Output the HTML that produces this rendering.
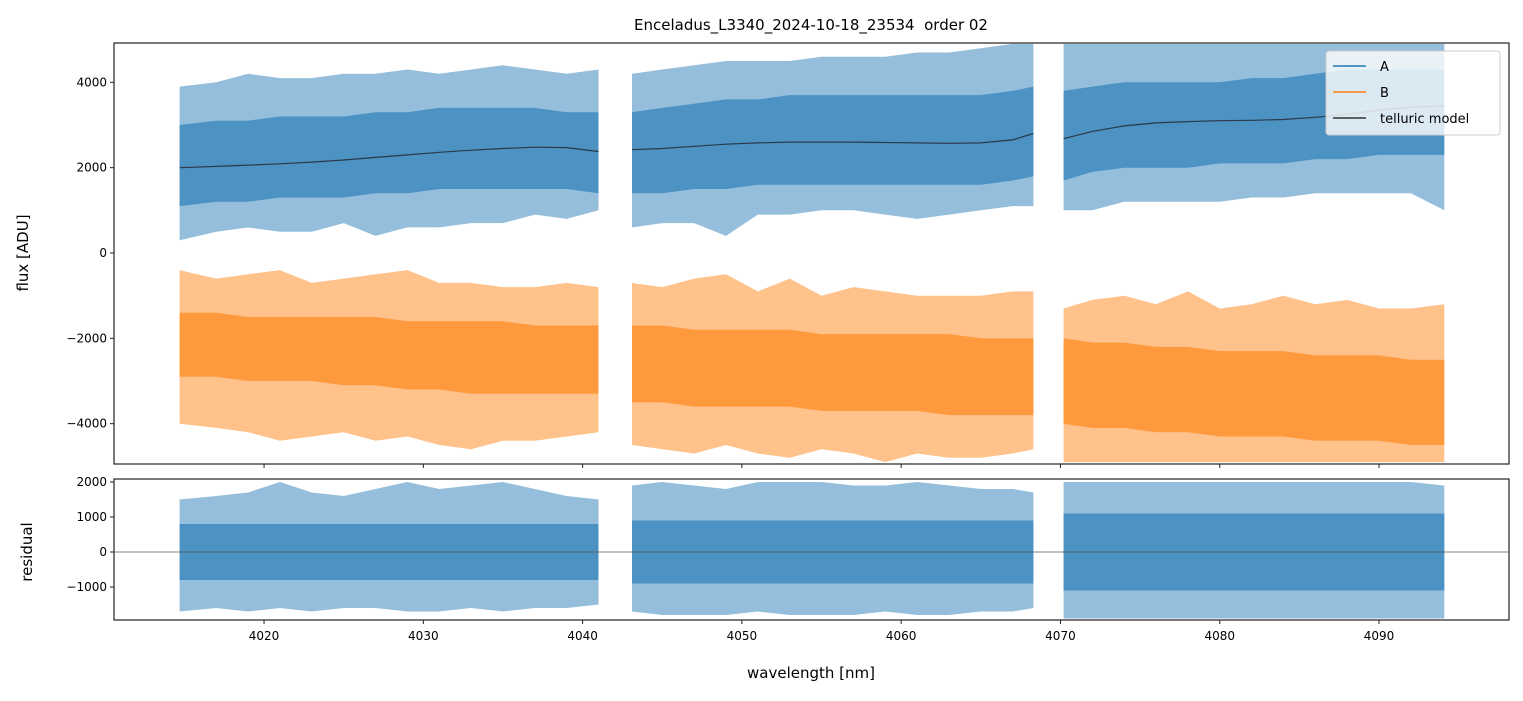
<!DOCTYPE html>
<html><head><meta charset="utf-8"><style>
body{margin:0;background:#fff}
svg text{font-family:"DejaVu Sans","Liberation Sans",sans-serif;fill:#000}
</style></head><body>
<svg id="chart" width="1523" height="696" xmlns="http://www.w3.org/2000/svg">
<defs>
<clipPath id="clipTop"><rect x="114" y="43" width="1395" height="421"/></clipPath>
<clipPath id="clipBot"><rect x="114" y="479" width="1395" height="141"/></clipPath>
</defs>
<rect x="0" y="0" width="1523" height="696" fill="#fff"/>
<text x="811" y="30" font-size="15" text-anchor="middle" style="white-space:pre">Enceladus_L3340_2024-10-18_23534  order 02</text>
<g id="gTop" clip-path="url(#clipTop)"></g>
<g id="gBot" clip-path="url(#clipBot)"></g>
<g id="axes"></g>
<text transform="translate(28,253) rotate(-90)" font-size="15" text-anchor="middle">flux [ADU]</text>
<text transform="translate(32,552) rotate(-90)" font-size="15" text-anchor="middle">residual</text>
<text x="811" y="678" font-size="15" text-anchor="middle">wavelength [nm]</text>
<g>
<rect x="1326" y="51" width="174" height="84" rx="3" fill="#fff" fill-opacity="0.8" stroke="#ccc" stroke-width="1"/>
<line x1="1333" y1="66" x2="1366" y2="66" stroke="#1f77b4" stroke-width="1.5"/>
<text x="1380" y="71" font-size="13">A</text>
<line x1="1333" y1="92" x2="1366" y2="92" stroke="#ff7f0e" stroke-width="1.5"/>
<text x="1380" y="97" font-size="13">B</text>
<line x1="1333" y1="118" x2="1366" y2="118" stroke="#333" stroke-width="1.5"/>
<text x="1380" y="123" font-size="13">telluric model</text>
</g>
</svg>
<script>
const seg1X=[4014.7,4017,4019,4021,4023,4025,4027,4029,4031,4033,4035,4037,4039,4041.0];
const seg2X=[4043.1,4045,4047,4049,4051,4053,4055,4057,4059,4061,4063,4065,4067,4068.3];
const seg3X=[4070.2,4072,4074,4076,4078,4080,4082,4084,4086,4088,4090,4092,4094.1];
const aCoreUp=[[3000,3100,3100,3200,3200,3200,3300,3300,3400,3400,3400,3400,3300,3300],[3300,3400,3500,3600,3600,3700,3700,3700,3700,3700,3700,3700,3800,3900],[3800,3900,4000,4000,4000,4000,4100,4100,4200,4300,4300,4300,4300]];
const aCoreLo=[[1100,1200,1200,1300,1300,1300,1400,1400,1500,1500,1500,1500,1500,1400],[1400,1400,1500,1500,1600,1600,1600,1600,1600,1600,1600,1600,1700,1800],[1700,1900,2000,2000,2000,2100,2100,2100,2200,2200,2300,2300,2300]];
const aOutUp=[[3900,4000,4200,4100,4100,4200,4200,4300,4200,4300,4400,4300,4200,4300],[4200,4300,4400,4500,4500,4500,4600,4600,4600,4700,4700,4800,4900,4900],[4900,4900,4900,4900,4900,4900,4900,4900,4900,4900,4900,4900,4900]];
const aOutLo=[[300,500,600,500,500,700,400,600,600,700,700,900,800,1000],[600,700,700,400,900,900,1000,1000,900,800,900,1000,1100,1100],[1000,1000,1200,1200,1200,1200,1300,1300,1400,1400,1400,1400,1000]];
const tellY=[[2000,2030,2060,2090,2130,2180,2240,2300,2360,2410,2450,2480,2470,2380],[2420,2450,2500,2550,2580,2600,2600,2600,2590,2580,2570,2580,2650,2800],[2680,2850,2980,3050,3080,3100,3110,3130,3180,3250,3350,3420,3450]];
const bCoreUp=[[-1400,-1400,-1500,-1500,-1500,-1500,-1500,-1600,-1600,-1600,-1600,-1700,-1700,-1700],[-1700,-1700,-1800,-1800,-1800,-1800,-1900,-1900,-1900,-1900,-1900,-2000,-2000,-2000],[-2000,-2100,-2100,-2200,-2200,-2300,-2300,-2300,-2400,-2400,-2400,-2500,-2500]];
const bCoreLo=[[-2900,-2900,-3000,-3000,-3000,-3100,-3100,-3200,-3200,-3300,-3300,-3300,-3300,-3300],[-3500,-3500,-3600,-3600,-3600,-3600,-3700,-3700,-3700,-3700,-3800,-3800,-3800,-3800],[-4000,-4100,-4100,-4200,-4200,-4300,-4300,-4300,-4400,-4400,-4400,-4500,-4500]];
const bOutUp=[[-400,-600,-500,-400,-700,-600,-500,-400,-700,-700,-800,-800,-700,-800],[-700,-800,-600,-500,-900,-600,-1000,-800,-900,-1000,-1000,-1000,-900,-900],[-1300,-1100,-1000,-1200,-900,-1300,-1200,-1000,-1200,-1100,-1300,-1300,-1200]];
const bOutLo=[[-4000,-4100,-4200,-4400,-4300,-4200,-4400,-4300,-4500,-4600,-4400,-4400,-4300,-4200],[-4500,-4600,-4700,-4500,-4700,-4800,-4600,-4700,-4900,-4700,-4800,-4800,-4700,-4600],[-4900,-4900,-4900,-4900,-4900,-4900,-4900,-4900,-4900,-4900,-4900,-4900,-4900]];
const rCoreUp=[[800,800,800,800,800,800,800,800,800,800,800,800,800,800],[900,900,900,900,900,900,900,900,900,900,900,900,900,900],[1100,1100,1100,1100,1100,1100,1100,1100,1100,1100,1100,1100,1100]];
const rCoreLo=[[-800,-800,-800,-800,-800,-800,-800,-800,-800,-800,-800,-800,-800,-800],[-900,-900,-900,-900,-900,-900,-900,-900,-900,-900,-900,-900,-900,-900],[-1100,-1100,-1100,-1100,-1100,-1100,-1100,-1100,-1100,-1100,-1100,-1100,-1100]];
const rOutUp=[[1500,1600,1700,2000,1700,1600,1800,2000,1800,1900,2000,1800,1600,1500],[1900,2000,1900,1800,2000,2000,2000,1900,1900,2000,1900,1800,1800,1700],[2000,2000,2000,2000,2000,2000,2000,2000,2000,2000,2000,2000,1900]];
const rOutLo=[[-1700,-1600,-1700,-1600,-1700,-1600,-1600,-1700,-1700,-1600,-1700,-1600,-1600,-1500],[-1700,-1800,-1800,-1800,-1700,-1800,-1800,-1800,-1700,-1800,-1800,-1700,-1700,-1600],[-1900,-1900,-1900,-1900,-1900,-1900,-1900,-1900,-1900,-1900,-1900,-1900,-1900]];
const xTicks=[4020,4030,4040,4050,4060,4070,4080,4090];
const yTicksTop=[4000,2000,0,-2000,-4000];
const yTicksBot=[2000,1000,0,-1000];

const NS="http://www.w3.org/2000/svg";
const X0=114,X1=1509,XMIN=4010.58,XMAX=4098.16;
const sx=v=>X0+(v-XMIN)/(XMAX-XMIN)*(X1-X0);
const syT=v=>253-v*0.042667;
const syB=v=>552-v*0.035;
const segs=[seg1X,seg2X,seg3X];
function mk(tag,attrs,parent){const e=document.createElementNS(NS,tag);for(const k in attrs)e.setAttribute(k,attrs[k]);parent.appendChild(e);return e;}
function band(g,xs,up,lo,sy,fill,op,name){
  let d='M'+xs.map((x,i)=>sx(x).toFixed(1)+','+sy(up[i]).toFixed(1)).join('L');
  d+='L'+xs.map((x,i)=>[x,i]).reverse().map(([x,i])=>sx(x).toFixed(1)+','+sy(lo[i]).toFixed(1)).join('L')+'Z';
  const p=mk('path',{d:d,fill:fill,'fill-opacity':op},g);
  
  
}
function line(g,xs,ys,sy,stroke,w,name){
  const p=mk('polyline',{points:xs.map((x,i)=>sx(x).toFixed(1)+','+sy(ys[i]).toFixed(1)).join(' '),fill:'none',stroke:stroke,'stroke-width':w},g);
  
  
}
const gT=document.getElementById('gTop'),gB=document.getElementById('gBot'),ax=document.getElementById('axes');
const AC='#4c92c3',BC='#ff993e';
segs.forEach((xs,s)=>{
  band(gT,xs,aOutUp[s],aOutLo[s],syT,AC,0.6,'series-a-spikes');
  band(gT,xs,aCoreUp[s],aCoreLo[s],syT,AC,1,'series-a-band');
  band(gT,xs,bOutUp[s],bOutLo[s],syT,BC,0.6,'series-b-spikes');
  band(gT,xs,bCoreUp[s],bCoreLo[s],syT,BC,1,'series-b-band');
  line(gT,xs,tellY[s],syT,'#2a3a48',1.2,'telluric-model-line');
  band(gB,xs,rOutUp[s],rOutLo[s],syB,AC,0.6,'residual-spikes');
  band(gB,xs,rCoreUp[s],rCoreLo[s],syB,AC,1,'residual-band');
});
const zl=mk('line',{x1:X0,x2:X1,y1:syB(0),y2:syB(0),stroke:'#555','stroke-width':0.8},gB);


[[43,464],[479,620]].forEach(([t,b],k)=>{
  const r=mk('rect',{x:X0,y:t,width:X1-X0,height:b-t,fill:'none',stroke:'#222','stroke-width':1.2},ax);
  
  
  xTicks.forEach(v=>{mk('line',{x1:sx(v),x2:sx(v),y1:b,y2:b+4,stroke:'#222','stroke-width':1},ax);});
});
xTicks.forEach(v=>{
  const t=mk('text',{x:sx(v),y:640,'font-size':12,'text-anchor':'middle'},ax);t.textContent=v;
  
  
});
const fmt=v=>v<0?'\u2212'+(-v):''+v;
yTicksTop.forEach(v=>{
  mk('line',{x1:X0-4,x2:X0,y1:syT(v),y2:syT(v),stroke:'#222'},ax);
  const t=mk('text',{x:X0-7,y:syT(v)+4,'font-size':12,'text-anchor':'end'},ax);t.textContent=fmt(v);
  
  
});
yTicksBot.forEach(v=>{
  mk('line',{x1:X0-4,x2:X0,y1:syB(v),y2:syB(v),stroke:'#222'},ax);
  const t=mk('text',{x:X0-7,y:syB(v)+4,'font-size':12,'text-anchor':'end'},ax);t.textContent=fmt(v);
  
  
});
</script>
</body></html>
